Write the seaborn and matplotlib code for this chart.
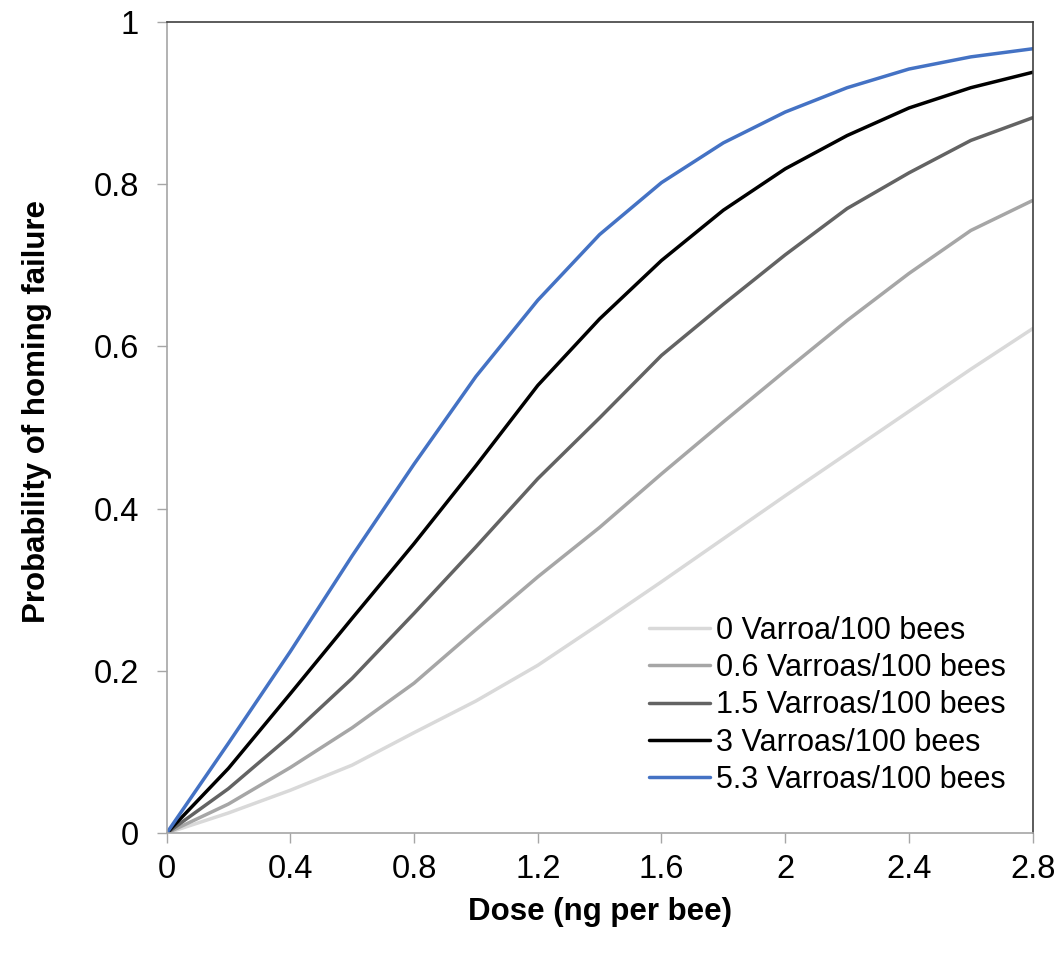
"""Homing failure probability vs thiamethoxam dose, by Varroa load."""
import pandas as pd
import matplotlib
matplotlib.use("Agg")
import matplotlib.pyplot as plt
import seaborn as sns

sns.set_style("ticks")
plt.rcParams["font.family"] = ["Liberation Sans", "DejaVu Sans"]
plt.rcParams["text.color"] = "black"
plt.rcParams["axes.labelcolor"] = "black"

# --- Data ---
dose = [0, 0.2, 0.4, 0.6, 0.8, 1.0, 1.2, 1.4, 1.6, 1.8, 2.0, 2.2, 2.4, 2.6, 2.8]
p_v0 = [0, 0.025, 0.053, 0.084, 0.124, 0.163, 0.207, 0.258, 0.310, 0.363,
        0.416, 0.468, 0.520, 0.572, 0.622]
p_v06 = [0, 0.036, 0.081, 0.130, 0.185, 0.251, 0.316, 0.377, 0.443, 0.507,
         0.570, 0.632, 0.690, 0.743, 0.780]
p_v15 = [0, 0.055, 0.120, 0.191, 0.271, 0.353, 0.437, 0.512, 0.589, 0.652,
         0.713, 0.770, 0.814, 0.854, 0.882]
p_v3 = [0, 0.080, 0.172, 0.265, 0.357, 0.453, 0.552, 0.634, 0.706, 0.768,
        0.819, 0.860, 0.894, 0.919, 0.938]
p_v53 = [0, 0.111, 0.224, 0.342, 0.455, 0.563, 0.657, 0.738, 0.802, 0.851,
         0.889, 0.919, 0.942, 0.957, 0.967]

labels = ["0 Varroa/100 bees", "0.6 Varroas/100 bees", "1.5 Varroas/100 bees",
          "3 Varroas/100 bees", "5.3 Varroas/100 bees"]
colors = ["#d9d9d9", "#a6a6a6", "#636363", "#000000", "#4472c4"]

df = pd.concat(
    [pd.DataFrame({"dose": dose, "prob": vals, "group": lab})
     for vals, lab in zip([p_v0, p_v06, p_v15, p_v3, p_v53], labels)],
    ignore_index=True,
)

fig = plt.figure(figsize=(10.61, 9.56), dpi=100)
ax = fig.add_axes([0.157, 0.1284, 0.8163, 0.8486])

sns.lineplot(data=df, x="dose", y="prob", hue="group", hue_order=labels,
             palette=colors, linewidth=2.5, ax=ax, legend=True)

ax.set_xlim(0, 2.8)
ax.set_ylim(0, 1)
ax.set_xticks([0, 0.4, 0.8, 1.2, 1.6, 2, 2.4, 2.8])
ax.set_xticklabels(["0", "0.4", "0.8", "1.2", "1.6", "2", "2.4", "2.8"])
ax.set_yticks([0, 0.2, 0.4, 0.6, 0.8, 1])
ax.set_yticklabels(["0", "0.2", "0.4", "0.6", "0.8", "1"])

ax.tick_params(axis="both", direction="out", length=7, width=1,
               color="#a6a6a6", labelsize=23.5, labelcolor="black")
ax.tick_params(axis="y", pad=13)
ax.tick_params(axis="x", pad=8)

for side in ["left", "bottom"]:
    ax.spines[side].set_color("#a6a6a6")
    ax.spines[side].set_linewidth(1.2)
for side in ["top", "right"]:
    ax.spines[side].set_visible(True)
    ax.spines[side].set_color("#404040")
    ax.spines[side].set_linewidth(1.2)

ax.set_xlabel("Dose (ng per bee)", fontsize=22.5, fontweight="bold", color="black")
ax.set_ylabel("Probability of homing failure", fontsize=22.5, fontweight="bold",
              color="black")
ax.xaxis.set_label_coords(0.5, -0.097)
ax.xaxis.label.set_va("center")
ax.yaxis.set_label_coords(-0.15, 0.52)
ax.yaxis.label.set_va("center")

handles, _ = ax.get_legend_handles_labels()
ax.legend(handles, labels, loc="upper left", bbox_to_anchor=(0.557, 0.268),
          frameon=False, fontsize=22, handlelength=2.0, handletextpad=0.2,
          labelspacing=0.24, borderpad=0, borderaxespad=0)

plt.savefig("out.png", dpi=100, facecolor="white")
plt.close()
print("out.png OK")
